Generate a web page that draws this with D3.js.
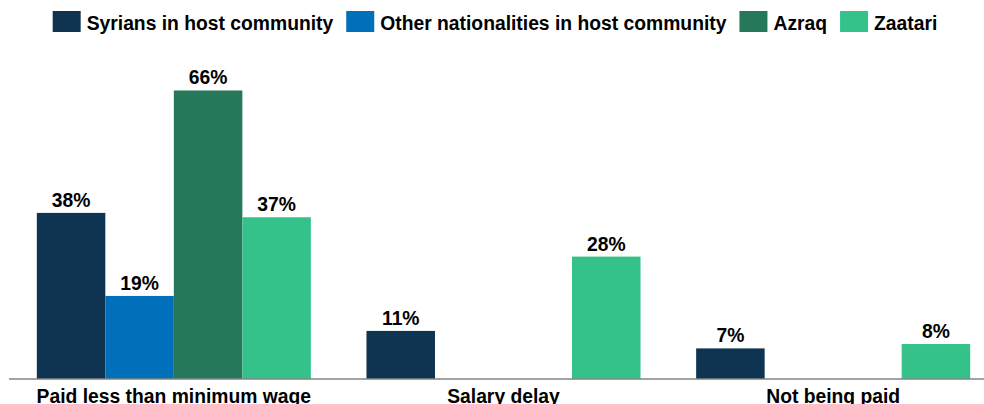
<!DOCTYPE html>
<html>
<head>
<meta charset="utf-8">
<script src="https://cdn.jsdelivr.net/npm/d3@7/dist/d3.min.js"></script>
<style>
  html, body { margin: 0; padding: 0; background: #ffffff; }
  svg { display: block; }
  text { font-family: "Liberation Sans", Arial, sans-serif; font-weight: bold; fill: #000; }
</style>
</head>
<body>
<svg id="chart" width="984" height="404"></svg>
<script>
// Issue categories along the x axis
const categories = ["Paid less than minimum wage", "Salary delay", "Not being paid"];

// Respondent groups (one bar per group in each category)
const seriesNames = [
  "Syrians in host community",
  "Other nationalities in host community",
  "Azraq",
  "Zaatari"
];
const seriesColors = ["#0e3452", "#0070bb", "#25795a", "#34c28a"];

// Share of respondents (%) per category; null = not reported
const syriansHost = [38, 11, 7];
const otherNationalitiesHost = [19, null, null];
const azraq = [66, null, null];
const zaatari = [37, 28, 8];

const seriesValues = [syriansHost, otherNationalitiesHost, azraq, zaatari];

const svg = d3.select("#chart");
const FONT = 19.3;
const STRETCH = 1.08;

const baseY = 379;
const x0 = d3.scaleBand().domain(categories).range([9, 998]).padding(0);
const x1 = d3.scaleBand().domain(seriesNames).range([0, x0.bandwidth()])
  .paddingInner(0).paddingOuter(0.406);
const y = d3.scaleLinear().domain([0, 70]).range([baseY, 73]);

function addText(sel, x, yy, str, anchor) {
  return sel.append("text")
    .attr("transform", `translate(${x},${yy}) scale(1,${STRETCH})`)
    .attr("text-anchor", anchor || "middle")
    .style("font-size", FONT + "px")
    .text(str);
}

// Bars and value labels
const rows = [];
categories.forEach((c, ci) => {
  seriesNames.forEach((s, si) => {
    const v = seriesValues[si][ci];
    if (v !== null && v !== undefined) rows.push({ c, s, si, v });
  });
});

const barG = svg.append("g");
barG.selectAll("rect").data(rows).join("rect")
  .attr("x", d => x0(d.c) + x1(d.s))
  .attr("y", d => y(d.v))
  .attr("width", x1.bandwidth())
  .attr("height", d => baseY - y(d.v))
  .attr("fill", d => seriesColors[d.si]);

const labelG = svg.append("g");
rows.forEach(d => {
  addText(labelG, x0(d.c) + x1(d.s) + x1.bandwidth() / 2, y(d.v) - 6, d.v + "%");
});

// Baseline axis
const axis = d3.axisBottom(x0).tickSize(0).tickFormat("");
const axisG = svg.append("g").attr("transform", `translate(0,${baseY})`).call(axis);
axisG.select(".domain").attr("stroke", "#858585").attr("stroke-width", 1.5)
  .attr("d", `M9,0H984`);

// Category labels
const catG = svg.append("g");
categories.forEach(c => {
  addText(catG, x0(c) + x0.bandwidth() / 2, 403, c);
});

// Legend, centred above the plot
const legG = svg.append("g");
const swW = 28, swH = 21, gapIn = 6, gapOut = 13;
const items = seriesNames.map((s, i) => {
  const t = addText(legG, 0, 30, s, "start");
  const w = t.node().getComputedTextLength();
  return { s, i, t, w };
});
const total = d3.sum(items, d => swW + gapIn + d.w) + gapOut * (items.length - 1);
let cx = 495 - total / 2;
items.forEach(d => {
  legG.append("rect").attr("x", cx).attr("y", 11).attr("width", swW).attr("height", swH)
    .attr("fill", seriesColors[d.i]);
  d.t.attr("transform", `translate(${cx + swW + gapIn},30) scale(1,${STRETCH})`);
  cx += swW + gapIn + d.w + gapOut;
});
</script>
</body>
</html>
